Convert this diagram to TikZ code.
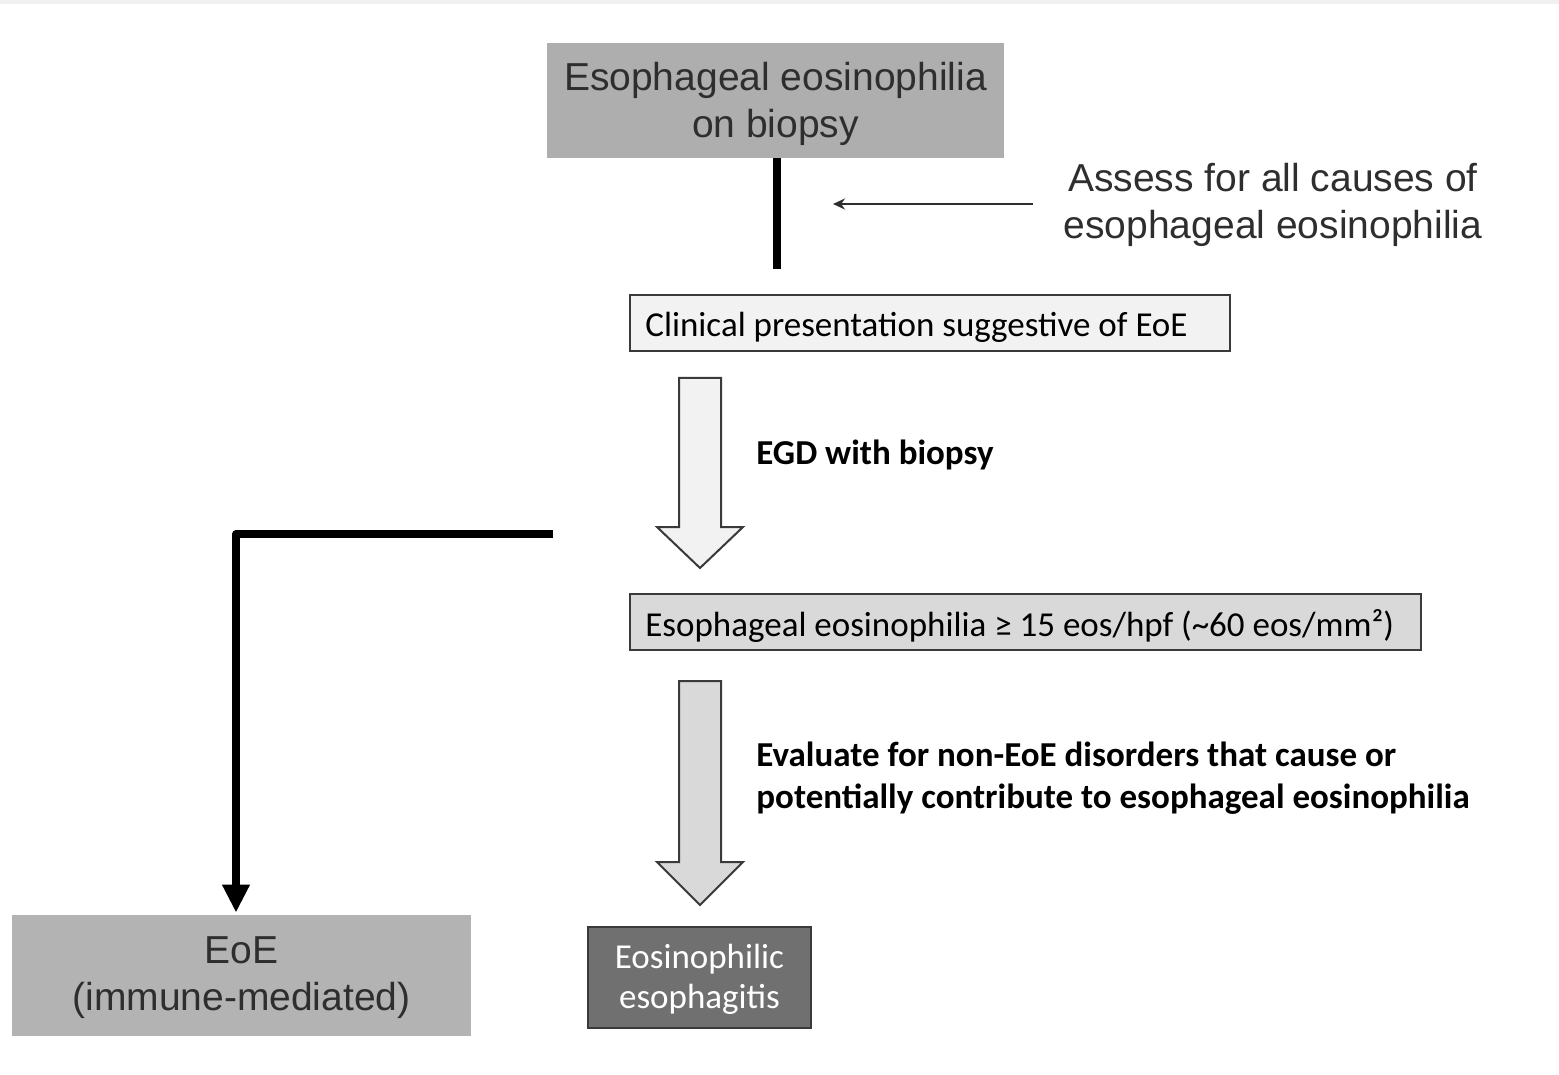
\documentclass[tikz,border=0pt]{standalone}
\usepackage{fontspec}
\setmainfont{Carlito}
\newfontfamily\arialf{Liberation Sans}
\usetikzlibrary{arrows.meta}
\definecolor{topgray}{HTML}{AEAEAE}
\definecolor{eoegray}{HTML}{B3B3B3}
\definecolor{lightfill}{HTML}{F2F2F2}
\definecolor{midfill}{HTML}{D9D9D9}
\definecolor{darkfill}{HTML}{707070}
\definecolor{edgegray}{HTML}{3A3A3A}
\definecolor{txtgray}{HTML}{2E2E2E}
\definecolor{bandgray}{HTML}{F0F0F0}
\tikzset{
  arialtext/.style={inner sep=0pt, align=center, text=txtgray,
    font=\arialf\fontsize{19.5}{23.5}\selectfont},
  plainbox/.style={inner sep=0pt},
  calbox/.style={draw=edgegray, line width=1pt, inner sep=0pt, minimum height=28pt},
  caltext/.style={inner sep=0pt, anchor=west, font=\fontsize{17.5}{20}\selectfont},
  blockarrow/.style={draw=edgegray, line width=1pt, line join=miter},
  thickline/.style={line width=4pt, black},
  lbl/.style={inner sep=0pt, anchor=west, align=left,
    font=\bfseries\fontsize{17.5}{21}\selectfont}
}
\begin{document}
\begin{tikzpicture}[x=0.5pt,y=-0.5pt]
\fill[white] (0,0) rectangle (1559,1075);
\useasboundingbox (0,0) rectangle (1559,1075);
\fill[bandgray] (0,0) rectangle (1559,4);

% top box
\node[plainbox, fill=topgray, minimum width=228.5pt, minimum height=57.5pt] (top) at (775.5,100.5) {};
\node[arialtext] (toptxt) at (775.5,104) {Esophageal eosinophilia\\on biopsy};

% assess text
\node[arialtext] (assess) at (1273,205) {Assess for all causes of\\esophageal eosinophilia};
\coordinate (astart) at (1033,204);
\coordinate (aend) at (833,204);
\draw[line width=1pt, txtgray, -{Stealth[length=6pt,width=5.5pt]}] (astart) -- (aend);

% thick vertical line
\coordinate (vend) at (777,269);
\draw[thickline] (top.south -| vend) -- (vend);

% clinical box
\node[calbox, fill=lightfill, minimum width=300pt] (clin) at (930,323) {};
\node[caltext] (clintxt) at (645,327) {Clinical presentation suggestive of EoE};

% block arrow 1
\draw[blockarrow, fill=lightfill] (679,378) -- (721,378) -- (721,527) -- (743,527)
  -- (700,568) -- (657,527) -- (679,527) -- cycle;
\node[lbl] (egd) at (756,455) {EGD with biopsy};

% eosinophilia box
\node[calbox, fill=midfill, minimum width=395.5pt] (eos) at (1025.5,622) {};
\node[caltext] (eostxt) at (645,626) {Esophageal eosinophilia ≥ 15 eos/hpf (\textasciitilde 60 eos/mm²)};

% block arrow 2
\draw[blockarrow, fill=midfill] (679,681) -- (721,681) -- (721,862) -- (743,862)
  -- (700,905) -- (657,862) -- (679,862) -- cycle;
\node[lbl] (eval) at (756,778.5) {Evaluate for non-EoE disorders that cause or\\potentially contribute to esophageal eosinophilia};

% EoE box
\node[plainbox, fill=eoegray, minimum width=229.5pt, minimum height=60.5pt] (eoe) at (241.5,975.5) {};
\node[arialtext] (eoetxt) at (241.5,978) {EoE\\(immune-mediated)};

% dark box
\node[draw=edgegray, line width=1pt, fill=darkfill, inner sep=0pt,
  minimum width=111.5pt, minimum height=50.5pt] (eosesoph) at (699.5,977.5) {};
\node[inner sep=0pt, align=center, text=white, font=\fontsize{17.5}{20}\selectfont] (eosesophtxt)
  at (699.5,979.5) {Eosinophilic\\esophagitis};

% elbow connector
\coordinate (estart) at (553,534);
\coordinate (ecorner) at (236,534);
\draw[thickline, line join=round, -{Triangle[width=13pt,length=14pt]}, shorten >=1pt]
  (estart) -- (ecorner) -- (ecorner |- eoe.north);
\end{tikzpicture}
\end{document}
